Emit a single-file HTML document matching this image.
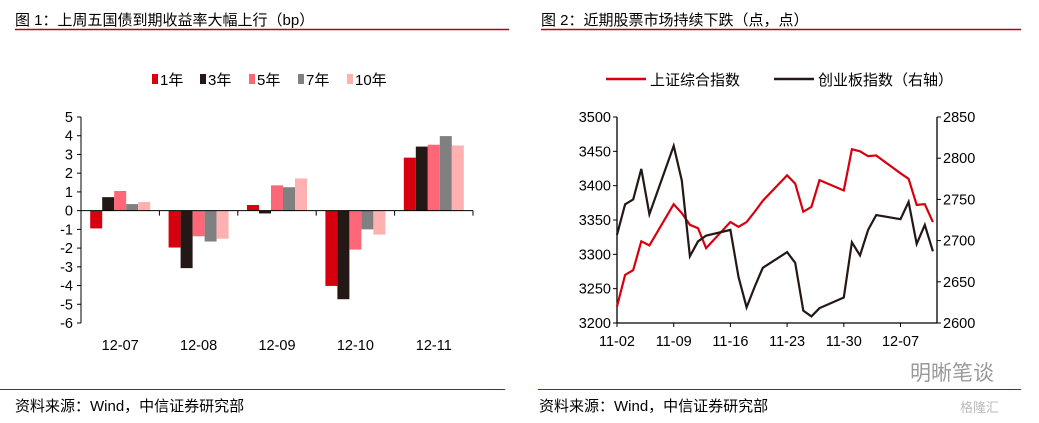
<!DOCTYPE html>
<html><head><meta charset="utf-8"><style>
body{margin:0;background:#fff;width:1039px;height:418px;overflow:hidden;font-family:"Liberation Sans","Noto Sans CJK SC",sans-serif;}
svg text{font-family:"Liberation Sans","Noto Sans CJK SC",sans-serif;}
</style></head><body>
<svg width="1039" height="418">
<text x="15" y="25" font-size="15" fill="#000">图 1：上周五国债到期收益率大幅上行（bp）</text>
<line x1="15" y1="29.5" x2="509" y2="29.5" stroke="#c00000" stroke-width="1.5"/>
<text x="541" y="25" font-size="15" fill="#000">图 2：近期股票市场持续下跌（点，点）</text>
<line x1="541" y1="29.5" x2="1021" y2="29.5" stroke="#c00000" stroke-width="1.5"/>
<line x1="0" y1="389.5" x2="505" y2="389.5" stroke="#c00000" stroke-width="1"/>
<line x1="538" y1="389.5" x2="1021" y2="389.5" stroke="#c00000" stroke-width="1"/>
<text x="15" y="411" font-size="15">资料来源：Wind，中信证券研究部</text>
<text x="539" y="411" font-size="15">资料来源：Wind，中信证券研究部</text>
<text x="910" y="380" font-size="21" fill="#999">明晰笔谈</text>
<text x="960" y="412" font-size="13" fill="#bbb">格隆汇</text>
<g id="c1"></g><g id="c2"></g>
</svg>
<script>
const NS="http://www.w3.org/2000/svg";
function mk(p,t,a){const e=document.createElementNS(NS,t);for(const k in a)e.setAttribute(k,a[k]);p.appendChild(e);return e;}
// Chart 1 data
const cats=["12-07","12-08","12-09","12-10","12-11"];
const seriesNames=["1年","3年","5年","7年","10年"];
const s1=[-0.95,-1.97,0.3,-4.02,2.83];
const s3=[0.72,-3.07,-0.15,-4.73,3.42];
const s5=[1.05,-1.37,1.35,-2.08,3.52];
const s7=[0.35,-1.65,1.25,-1.0,3.98];
const s10=[0.46,-1.5,1.72,-1.28,3.48];
const yTicks1=[5,4,3,2,1,0,-1,-2,-3,-4,-5,-6];
const colors=["#d7000f","#231815","#ff6677","#808080","#ffb1b1"];
(function(){
const g=document.getElementById('c1');
const X0=81,X1=473,yTop=117,yBot=323,vMax=5,vMin=-6;
const y=v=>yTop+(vMax-v)/(vMax-vMin)*(yBot-yTop);
const cw=(X1-X0)/cats.length,bw=12;
const all=[s1,s3,s5,s7,s10];
all.forEach((s,si)=>{s.forEach((v,ci)=>{
const x=X0+ci*cw+(cw-bw*5)/2+si*bw;const a=y(Math.max(v,0)),b=y(Math.min(v,0));
const r=mk(g,'rect',{x:x,y:a,width:bw,height:b-a,fill:colors[si]});


});});
const ax=mk(g,'line',{x1:X0,y1:yTop,x2:X0,y2:yBot,stroke:'#000','stroke-width':1});

yTicks1.forEach(t=>{mk(g,'line',{x1:X0-4,x2:X0,y1:y(t),y2:y(t),stroke:'#000'});
const tx=mk(g,'text',{x:X0-8,y:y(t)+5,'font-size':14.5,'text-anchor':'end'});tx.textContent=t;
});
const xa=mk(g,'line',{x1:X0,y1:y(0),x2:X1,y2:y(0),stroke:'#000'});

cats.forEach((c,i)=>{mk(g,'line',{x1:X0+(i+1)*cw,x2:X0+(i+1)*cw,y1:y(0),y2:y(0)+5,stroke:'#000'});
const tx=mk(g,'text',{x:X0+(i+0.5)*cw,y:350,'font-size':14.5,'text-anchor':'middle'});tx.textContent=c;
});
const lx=[152,200,249,298,347];
seriesNames.forEach((n,i)=>{mk(g,'rect',{x:lx[i],y:74,width:6,height:10,fill:colors[i]});
const tx=mk(g,'text',{x:lx[i]+8,y:85,'font-size':15});tx.textContent=n;
});
})();
// Chart 2 data
const dates=["11-02","11-03","11-04","11-05","11-06","11-09","11-10","11-11","11-12","11-13","11-16","11-17","11-18","11-19","11-20","11-23","11-24","11-25","11-26","11-27","11-30","12-01","12-02","12-03","12-04","12-07","12-08","12-09","12-10","12-11"];
const shIndex=[3224,3270,3277,3319,3313,3373,3360,3343,3338,3309,3347,3340,3347,3362,3378,3415,3403,3362,3369,3408,3393,3453,3450,3443,3444,3418,3410,3372,3373,3347];
const cyIndex=[2707,2744,2750,2787,2732,2815,2773,2681,2699,2706,2713,2656,2619,2644,2667,2686,2673,2615,2608,2618,2631,2698,2682,2713,2731,2726,2747,2696,2719,2687];
const xTickLabels=["11-02","11-09","11-16","11-23","11-30","12-07"];
const yTicksL=[3500,3450,3400,3350,3300,3250,3200];
const yTicksR=[2850,2800,2750,2700,2650,2600];
(function(){
const g=document.getElementById('c2');
const XL=617,XR=937,yTop=117,yBot=323,pxDay=8.1;
const dayIdx=d=>{const [m,dd]=d.split('-').map(Number);return (m===11?dd:30+dd)-2;};
const x=d=>XL+dayIdx(d)*pxDay;
const yl=v=>yTop+(3500-v)/300*(yBot-yTop);
const yr=v=>yTop+(2850-v)/250*(yBot-yTop);
[[XL,'y-axis-left'],[XR,'y-axis-right']].forEach(([a,n])=>{const l=mk(g,'line',{x1:a,x2:a,y1:yTop,y2:yBot,stroke:'#000','stroke-width':1.3});});
const xa=mk(g,'line',{x1:XL,x2:XR,y1:yBot,y2:yBot,stroke:'#000','stroke-width':1.3});
yTicksL.forEach(t=>{mk(g,'line',{x1:XL-4,x2:XL,y1:yl(t),y2:yl(t),stroke:'#000'});const tx=mk(g,'text',{x:XL-6,y:yl(t)+5,'font-size':14.5,'text-anchor':'end'});tx.textContent=t;});
yTicksR.forEach(t=>{mk(g,'line',{x1:XR,x2:XR+4,y1:yr(t),y2:yr(t),stroke:'#000'});const tx=mk(g,'text',{x:XR+6,y:yr(t)+5,'font-size':14.5});tx.textContent=t;});
xTickLabels.forEach(d=>{mk(g,'line',{x1:x(d),x2:x(d),y1:yBot,y2:yBot+4,stroke:'#000'});const tx=mk(g,'text',{x:x(d),y:346,'font-size':14.5,'text-anchor':'middle'});tx.textContent=d;});
const p1=mk(g,'polyline',{points:dates.map((d,i)=>x(d)+','+yl(shIndex[i])).join(' '),fill:'none',stroke:'#d7000f','stroke-width':2.2});

const p2=mk(g,'polyline',{points:dates.map((d,i)=>x(d)+','+yr(cyIndex[i])).join(' '),fill:'none',stroke:'#231815','stroke-width':2.2});

mk(g,'line',{x1:606,x2:646,y1:79,y2:79,stroke:'#d7000f','stroke-width':2.5});
let t=mk(g,'text',{x:650,y:85,'font-size':15});t.textContent='上证综合指数';
mk(g,'line',{x1:774,x2:814,y1:79,y2:79,stroke:'#231815','stroke-width':2.5});
t=mk(g,'text',{x:818,y:85,'font-size':15});t.textContent='创业板指数（右轴）';
})();
</script>
</body></html>
